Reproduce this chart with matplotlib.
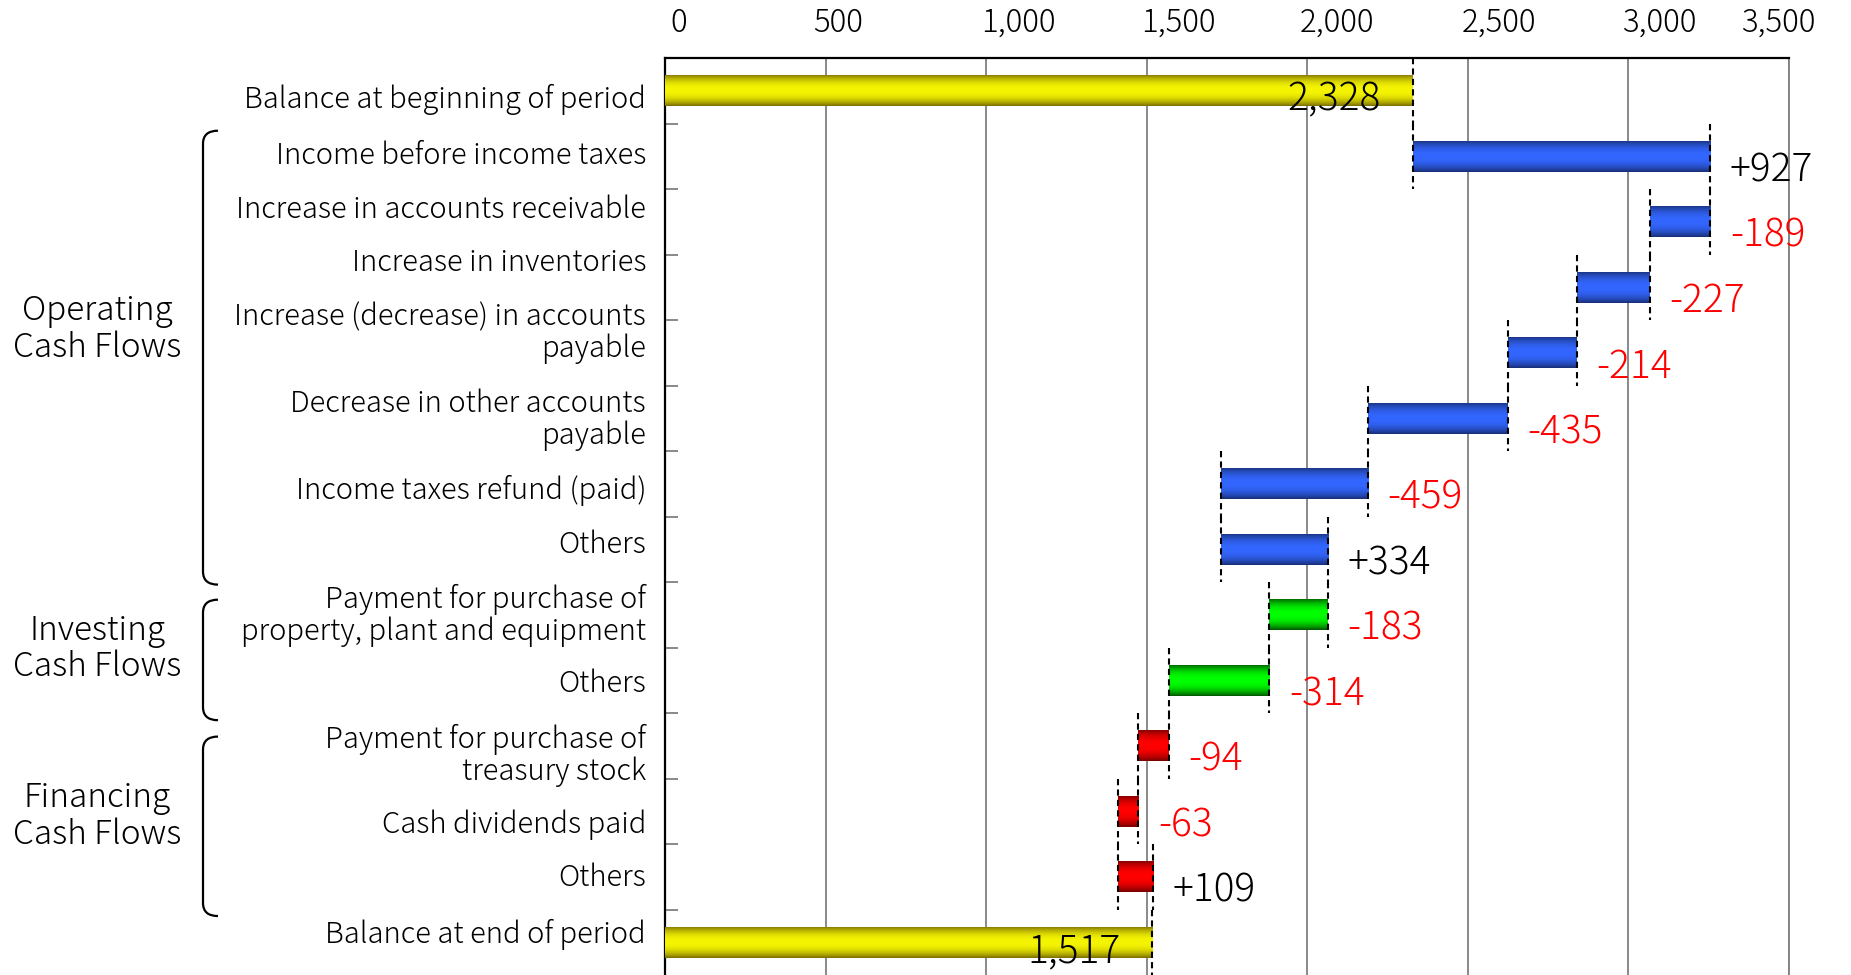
import numpy as np
import matplotlib
matplotlib.use("Agg")
import matplotlib.pyplot as plt
from matplotlib import transforms
from matplotlib.path import Path
from matplotlib.patches import PathPatch
from matplotlib.colors import LinearSegmentedColormap

plt.rcParams['font.family'] = ['Noto Sans CJK JP', 'DejaVu Sans']
plt.rcParams['font.weight'] = 'light'

# ---- data -------------------------------------------------------------
categories = [
    "Balance at beginning of period",
    "Income before income taxes",
    "Increase in accounts receivable",
    "Increase in inventories",
    "Increase (decrease) in accounts\npayable",
    "Decrease in other accounts\npayable",
    "Income taxes refund (paid)",
    "Others",
    "Payment for purchase of\nproperty, plant and equipment",
    "Others",
    "Payment for purchase of\ntreasury stock",
    "Cash dividends paid",
    "Others",
    "Balance at end of period",
]
start_balance = 2328
changes = [927, -189, -227, -214, -435, -459, 334, -183, -314, -94, -63, 109]
end_balance = 1517
change_groups = ["op"] * 7 + ["inv"] * 2 + ["fin"] * 3

group_names = ["Operating\nCash Flows", "Investing\nCash Flows", "Financing\nCash Flows"]
group_keys = ["op", "inv", "fin"]

x_ticks = [0, 500, 1000, 1500, 2000, 2500, 3000, 3500]

# ---- styling ----------------------------------------------------------
palette = {
    "bal": ((0.47, 0.42, 0.0), (0.96, 0.96, 0.0)),
    "op": ((0.09, 0.18, 0.45), (0.20, 0.40, 1.0)),
    "inv": ((0.0, 0.33, 0.0), (0.0, 1.0, 0.0)),
    "fin": ((0.45, 0.0, 0.0), (1.0, 0.0, 0.0)),
}
BAR_H = 0.48
GRID_C = "#808080"
# vertical nudges of the row captions (in row units, + is downward)
label_nudge = [0.07, -0.07, -0.25, -0.43, -0.36, -0.04, 0.04, -0.13,
               -0.05, 0.0, 0.09, 0.14, -0.04, -0.18]
LABEL_SHIFT = 0.06

fig = plt.figure(figsize=(18.51, 9.75), dpi=100)
ax = fig.add_axes([665 / 1851, 0.0, 1124 / 1851, 917 / 975])

n = len(categories)
ypos = np.arange(n)

# waterfall extents
lefts, rights, kinds = [], [], []
lefts.append(0); rights.append(start_balance); kinds.append("bal")
running = start_balance
for ch, g in zip(changes, change_groups):
    nxt = running + ch
    lefts.append(min(running, nxt)); rights.append(max(running, nxt)); kinds.append(g)
    running = nxt
lefts.append(0); rights.append(end_balance); kinds.append("bal")

widths = np.array(rights) - np.array(lefts)
bars = ax.barh(ypos, widths, left=lefts, height=BAR_H, color="none",
               edgecolor="none", zorder=3)

# vertical gradient fill: dark rims, bright middle
t = np.linspace(0, 1, 200)
prof = 1 - np.abs(2 * t - 1) ** 2.2
grad = prof[:, None]
for patch, kind in zip(bars.patches, kinds):
    dark, bright = palette[kind]
    cmap = LinearSegmentedColormap.from_list("g_" + kind, [dark, bright])
    x0, y0 = patch.get_x(), patch.get_y()
    w, h = patch.get_width(), patch.get_height()
    im = ax.imshow(grad, extent=[x0, x0 + w, y0 + h, y0], aspect="auto",
                   cmap=cmap, vmin=0, vmax=1, zorder=3, interpolation="bilinear")
    im.set_clip_path(patch)

# dashed guide lines at bar edges
for i, (l, r, kind) in enumerate(zip(lefts, rights, kinds)):
    edges = [r] if kind == "bal" else [l, r]
    for xe in edges:
        ax.plot([xe, xe], [i - 0.5, i + 0.5], color="black", lw=1.5,
                ls=(0, (3, 2)), zorder=4, solid_capstyle="butt")

# value labels
for i, ch in enumerate(changes, start=1):
    txt = f"{ch:+d}"
    col = "red" if ch < 0 else "black"
    ax.annotate(txt, xy=(rights[i], i), xytext=(14, -18), textcoords="offset points",
                ha="left", va="baseline", fontsize=28, color=col, zorder=5)
for i, val in [(0, start_balance), (n - 1, end_balance)]:
    ax.annotate(f"{val:,}", xy=(val, i), xytext=(-23, -14.5), textcoords="offset points",
                ha="right", va="baseline", fontsize=28, color="black", zorder=5)

# axes
ax.set_xlim(0, 3500)
ax.set_ylim(n - 0.5, -0.5)
ax.set_xticks(x_ticks)
ax.xaxis.tick_top()
ax.tick_params(axis="x", length=0, labeltop=False, labelbottom=False)
ax.grid(axis="x", color=GRID_C, lw=1.3, zorder=1)
ax.set_axisbelow(True)

ax.set_yticks(ypos)
ax.tick_params(axis="y", length=0, labelleft=False)
ax.set_yticks(np.arange(0.5, n - 0.5, 1.0), minor=True)
ax.tick_params(axis="y", which="minor", direction="in", length=9, width=1.3,
               color=GRID_C)

for s in ["top", "left"]:
    ax.spines[s].set_color("black")
    ax.spines[s].set_linewidth(1.6)
ax.spines["right"].set_color(GRID_C)
ax.spines["right"].set_linewidth(1.3)
ax.spines["bottom"].set_visible(False)

bt = transforms.blended_transform_factory(ax.transAxes, ax.transData)

# row captions
cap_x = (646 - 665) / 1124
for yv, name, dy in zip(ypos, categories, label_nudge):
    ax.text(cap_x, yv + dy + LABEL_SHIFT, name, transform=bt, ha="right", va="center",
            multialignment="right", fontsize=21, linespacing=1.05, clip_on=False)

# x tick labels above the frame
tick_shift_px = [14, 13, 32, 32, 30, 31, 31, -11]
for xv, dx in zip(x_ticks, tick_shift_px):
    tr = ax.get_xaxis_transform() + transforms.ScaledTranslation(dx / 100, 19 / 100, fig.dpi_scale_trans)
    ax.text(xv, 1.0, f"{xv:,}", transform=tr, ha="center", va="bottom",
            fontsize=22.5, clip_on=False)

# group brackets and names
x_v = (203 - 665) / 1124
x_e = (218 - 665) / 1124
r = 0.2
bracket_spans = {"op": (0.61, 7.54), "inv": (7.77, 9.61), "fin": (9.86, 12.6)}
name_y = {"op": 3.64, "inv": 8.52, "fin": 11.08}
for key, name in zip(group_keys, group_names):
    y0, y1 = bracket_spans[key]
    verts = [(x_e, y0), (x_v, y0), (x_v, y0 + r), (x_v, y1 - r), (x_v, y1), (x_e, y1)]
    codes = [Path.MOVETO, Path.CURVE3, Path.CURVE3, Path.LINETO, Path.CURVE3, Path.CURVE3]
    ax.add_patch(PathPatch(Path(verts, codes), transform=bt, fill=False,
                           lw=1.6, color="black", clip_on=False))
    ax.text((97 - 665) / 1124, name_y[key], name, transform=bt, ha="center",
            va="center", multialignment="center", fontsize=24, linespacing=1.08,
            clip_on=False)

fig.savefig("out.png", dpi=100)
